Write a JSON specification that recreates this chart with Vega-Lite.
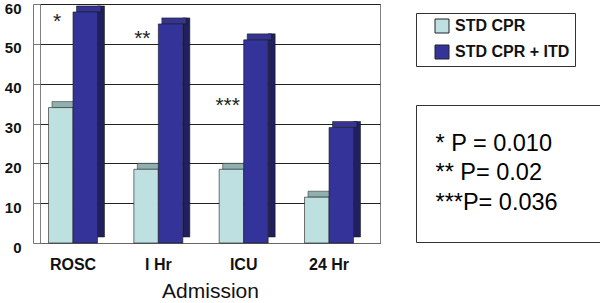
{
  "$schema": "https://vega.github.io/schema/vega-lite/v6.json",
  "width": 340,
  "height": 239,
  "autosize": {"type": "none"},
  "padding": {"left": 40, "top": 4, "right": 220, "bottom": 60},
  "background": "white",
  "config": {
    "font": "Liberation Sans",
    "view": {"stroke": "#808080", "strokeWidth": 1}
  },
  "datasets": {
    "bars": [
      {"cat": "ROSC", "series": "STD CPR", "value": 34},
      {"cat": "ROSC", "series": "STD CPR + ITD", "value": 58},
      {"cat": "I Hr", "series": "STD CPR", "value": 18.5},
      {"cat": "I Hr", "series": "STD CPR + ITD", "value": 55},
      {"cat": "ICU", "series": "STD CPR", "value": 18.5},
      {"cat": "ICU", "series": "STD CPR + ITD", "value": 51},
      {"cat": "24 Hr", "series": "STD CPR", "value": 11.5},
      {"cat": "24 Hr", "series": "STD CPR + ITD", "value": 29}
    ],
    "notes": [
      {"cat": "ROSC", "star": "*", "ypos": 54, "pnote": "* P = 0.010"},
      {"cat": "I Hr", "star": "**", "ypos": 49.8, "pnote": "** P= 0.02"},
      {"cat": "ICU", "star": "***", "ypos": 32.8, "pnote": "***P= 0.036"}
    ]
  },
  "encoding": {
    "x": {
      "field": "cat",
      "type": "nominal",
      "sort": null,
      "scale": {"domain": ["ROSC", "I Hr", "ICU", "24 Hr"], "paddingInner": 0.426, "paddingOuter": 0.205, "align": 0.243},
      "axis": {
        "title": "Admission",
        "labelAngle": 0,
        "labelFontSize": 16,
        "labelFontWeight": "bold",
        "labelColor": "#111",
        "labelPadding": 13,
        "ticks": false,
        "domainColor": "#666",
        "titleFontSize": 21,
        "titleFontWeight": "normal",
        "titleColor": "#111",
        "titlePadding": 8
      }
    }
  },
  "layer": [
    {
      "data": {"name": "bars"},
      "transform": [{"filter": "datum.series == 'STD CPR'"}],
      "mark": {"type": "bar", "width": 24.5, "xOffset": -8.75, "yOffset": -6, "color": "#8fb0ae", "stroke": "#222", "strokeWidth": 0.5},
      "encoding": {
        "y": {"field": "value", "type": "quantitative", "scale": {"domain": [0, 60]},
          "axis": {"title": null, "values": [0, 10, 20, 30, 40, 50, 60], "tickCount": 7, "labelOverlap": false, "grid": true, "gridColor": "#222", "gridOpacity": 1, "offset": 7, "tickSize": -7, "tickColor": "#777", "domainColor": "#777", "labelFontSize": 15, "labelFontWeight": "bold", "labelColor": "#111", "labelPadding": 19, "labelOffset": 4}},
        "y2": {"field": "value"}
      }
    },
    {
      "data": {"name": "bars"},
      "transform": [{"filter": "datum.series == 'STD CPR + ITD'"}],
      "mark": {"type": "bar", "width": 7, "xOffset": 28, "yOffset": -6, "y2Offset": -6, "color": "#20205e", "stroke": "#111", "strokeWidth": 0.5},
      "encoding": {
        "y": {"field": "value", "type": "quantitative"},
        "y2": {"datum": 0}
      }
    },
    {
      "data": {"name": "bars"},
      "transform": [{"filter": "datum.series == 'STD CPR + ITD'"}],
      "mark": {"type": "bar", "width": 24.5, "xOffset": 15.75, "yOffset": -6, "color": "#35358f", "stroke": "#111", "strokeWidth": 0.5},
      "encoding": {
        "y": {"field": "value", "type": "quantitative"},
        "y2": {"field": "value"}
      }
    },
    {
      "data": {"name": "bars"},
      "mark": {"type": "bar", "stroke": "#1a1a1a", "strokeWidth": 0.6},
      "encoding": {
        "xOffset": {"field": "series", "type": "nominal", "sort": null, "scale": {"paddingInner": 0, "paddingOuter": 0}},
        "y": {"field": "value", "type": "quantitative"},
        "color": {
          "field": "series",
          "type": "nominal",
          "sort": null,
          "scale": {"range": ["#bfe0e0", "#333399"]},
          "legend": {
            "title": null,
            "orient": "none",
            "legendX": 376,
            "legendY": 9,
            "direction": "vertical",
            "symbolType": "square",
            "symbolSize": 196,
            "symbolStrokeColor": "#222",
            "symbolStrokeWidth": 1,
            "symbolOffset": 13,
            "labelOffset": 5,
            "labelFontSize": 16,
            "labelFontWeight": "bold",
            "labelColor": "#111",
            "labelLimit": 300,
            "rowPadding": 8,
            "padding": 5,
            "strokeColor": "#333",
            "fillColor": "white",
            "labelExpr": "datum.label + '      '"
          }
        }
      }
    },
    {
      "data": {"name": "notes"},
      "mark": {"type": "text", "fontSize": 21, "color": "#222", "dx": -16, "baseline": "alphabetic"},
      "encoding": {
        "y": {"field": "ypos", "type": "quantitative"},
        "text": {"field": "star"}
      }
    },
    {
      "data": {"name": "notes"},
      "mark": {"type": "point", "opacity": 0},
      "encoding": {
        "y": {"field": "ypos", "type": "quantitative"},
        "shape": {
          "field": "pnote",
          "type": "nominal",
          "sort": null,
          "legend": {
            "title": null,
            "orient": "none",
            "legendX": 376,
            "legendY": 101,
            "symbolSize": 400,
            "symbolOpacity": 0,
            "symbolStrokeWidth": 0,
            "symbolOffset": 109,
            "labelOffset": -140,
            "labelFontSize": 23.5,
            "labelColor": "#000",
            "labelLimit": 300,
            "rowPadding": 4.5,
            "padding": 27,
            "strokeColor": "#333",
            "fillColor": "white"
          }
        }
      }
    }
  ]
}
